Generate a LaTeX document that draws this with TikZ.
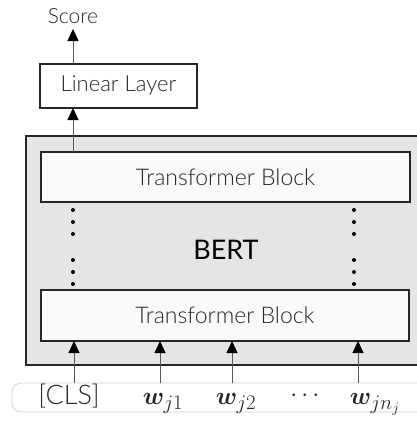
\documentclass[tikz,border=0pt]{standalone}
\usepackage{fontspec}
\usepackage{amsmath,bm}
\setmainfont{Lato Light}
\newfontfamily\regfont{Lato}
\usetikzlibrary{arrows.meta}
\begin{document}
\begin{tikzpicture}[x=1pt,y=-1pt,
  box/.style={draw=black!85, line width=1.6pt, inner sep=0pt, anchor=center},
  lbl/.style={inner sep=0pt, anchor=center, text=black!85},
  arr/.style={draw=black!65, line width=1pt, -{Triangle[width=11pt,length=12pt,color=black]}},
  dot/.style={circle, fill=black, inner sep=0pt, minimum size=4pt}]
\clip (0,0) rectangle (417,423);
% input strip
\draw[black!18, line width=0.8pt, rounded corners=9pt] (12,383) rectangle (460,412);
% BERT outer box
\draw[draw=black!85, fill=black!10, line width=1.8pt] (26,136) rectangle (440,365);
\node[lbl, font=\regfont\fontsize{27}{27}\selectfont, text=black] (bert) at (226,250) {BERT};
% blocks
\node[box, fill=black!2, minimum width=369pt, minimum height=50pt] (tb1) at (225.5,177) {};
\node[lbl, font=\fontsize{23}{23}\selectfont] at (tb1) {Transformer Block};
\node[box, fill=black!2, minimum width=368pt, minimum height=51pt] (tb2) at (225,315.5) {};
\node[lbl, font=\fontsize{23}{23}\selectfont] at (tb2) {Transformer Block};
\node[box, fill=white, line width=1.3pt, minimum width=157pt, minimum height=44pt] (lin) at (118.5,86) {};
\node[lbl, font=\fontsize{22}{22}\selectfont] at (lin) {Linear Layer};
\node[lbl, font=\fontsize{21}{21}\selectfont] (score) at (73,16) {Score};
% dots
\foreach \y in {210,222,234,260,272,284}{
  \node[dot] at (73,\y) {};
  \node[dot] at (354,\y) {};
}
% arrows
\coordinate (sc) at (73,29);
\draw[arr] (73,64) -- (sc);
\draw[arr] (73,152) -- (73,108);
% inputs
\node[lbl, font=\fontsize{27}{27}\selectfont] (cls) at (69,396) {[CLS]};
\node[lbl, font=\fontsize{31}{31}\selectfont, anchor=base] (w1) at (163,404) {$\bm{w}_{j1}$};
\node[lbl, font=\fontsize{31}{31}\selectfont, anchor=base] (w2) at (236,404) {$\bm{w}_{j2}$};
\node[lbl, font=\fontsize{24}{24}\selectfont] (dd) at (307,396) {$\cdots$};
\node[lbl, font=\fontsize{31}{31}\selectfont, anchor=base] (wn) at (375,404) {$\bm{w}_{jn_j}$};
\foreach \x in {74,160,232,358}{
  \draw[arr] (\x,383) -- (\x,341);
}
\end{tikzpicture}
\end{document}
